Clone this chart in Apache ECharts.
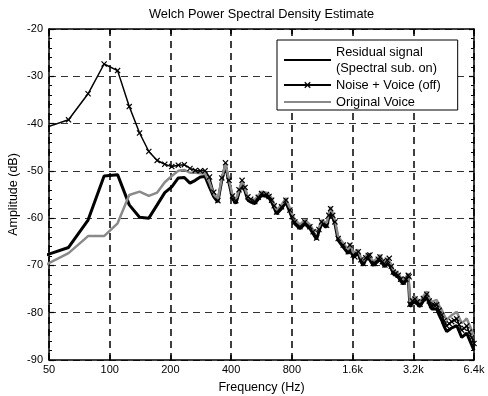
<!DOCTYPE html>
<html>
<head>
<meta charset="utf-8">
<script src="https://cdn.jsdelivr.net/npm/echarts@6/dist/echarts.min.js"></script>
<style>
html, body { margin: 0; padding: 0; background: #fff; }
#main { width: 488px; height: 396px; }
</style>
</head>
<body>
<div id="main"></div>
<script>
// 频率点 (Hz)
const freq = [
    46.9, 62.5, 78.1, 93.8, 109.4, 125, 140.6, 156.3, 171.9, 187.5,
    203.1, 218.8, 234.4, 250, 265.6, 281.3, 296.9, 312.5, 328.1, 343.8,
    359.4, 375, 390.6, 406.3, 421.9, 437.5, 453.1, 468.8, 484.4, 500,
    524, 545, 566, 599, 617, 635, 654, 672, 711, 747,
    782, 805, 828, 877, 928, 983, 1020, 1061, 1090, 1123,
    1189, 1220, 1245, 1275, 1308, 1358, 1438, 1523, 1552, 1612,
    1643, 1707, 1760, 1807, 1860, 1914, 1951, 2026, 2065, 2145,
    2187, 2250, 2315, 2380, 2432, 2490, 2546, 2620, 2695, 2770,
    2854, 2940, 3022, 3050, 3080, 3170, 3263, 3354, 3454, 3590,
    3730, 3840, 3948, 4060, 4180, 4300, 4426, 4550, 4685, 4820,
    4962, 5100, 5253, 5400, 5561, 5720, 5888, 6060, 6234, 6400
];

// Residual signal (Spectral sub. on)
const residual = [
    -68.0, -66.2, -60.4, -51.1, -50.8, -57.2, -59.8, -60.0, -57.2, -54.6,
    -53.4, -51.5, -51.4, -52.6, -52.0, -51.3, -51.2, -53.5, -55.5, -56.6,
    -52.0, -48.8, -52.6, -55.9, -56.9, -54.6, -52.8, -54.3, -56.2, -56.6,
    -56.9, -56.0, -55.2, -55.4, -55.8, -56.6, -57.8, -59.1, -58.0, -56.6,
    -58.7, -60.1, -61.2, -62.2, -61.2, -62.2, -63.3, -64.5, -62.8, -61.2,
    -61.9, -59.8, -58.4, -59.8, -61.2, -64.7, -66.1, -67.5, -66.1, -68.2,
    -68.6, -67.5, -69.2, -70.0, -68.8, -68.3, -68.2, -70.0, -70.0, -69.1,
    -68.6, -69.6, -70.3, -69.3, -68.9, -70.6, -71.8, -72.1, -72.5, -73.3,
    -73.9, -73.3, -72.5, -72.8, -78.7, -78.0, -77.6, -78.2, -78.7, -77.5,
    -76.7, -78.2, -79.2, -79.2, -79.2, -80.5, -81.6, -82.9, -84.0, -83.6,
    -83.2, -83.0, -82.7, -83.9, -85.2, -84.8, -84.3, -85.6, -86.8, -88.0
];

// Noise + Voice (off)
const noisy = [
    -41.0, -39.2, -33.7, -27.4, -28.8, -36.4, -42.0, -45.9, -47.8, -48.6,
    -49.1, -48.8, -48.7, -49.5, -49.9, -50.0, -50.0, -51.3, -54.5, -56.3,
    -51.5, -48.3, -52.0, -55.3, -56.3, -54.0, -52.0, -53.5, -55.5, -56.0,
    -56.5, -55.6, -54.8, -55.0, -55.4, -56.2, -57.4, -58.7, -57.6, -56.2,
    -58.3, -59.7, -60.8, -61.8, -60.8, -61.8, -62.9, -64.2, -62.4, -60.8,
    -61.5, -59.4, -58.0, -59.4, -60.8, -64.3, -65.7, -67.1, -65.7, -67.8,
    -68.2, -67.1, -68.8, -69.6, -68.4, -67.9, -67.8, -69.6, -69.6, -68.7,
    -68.2, -69.2, -69.9, -68.9, -68.5, -70.2, -71.4, -71.7, -72.1, -72.9,
    -73.5, -72.9, -72.1, -72.4, -78.2, -77.5, -77.1, -77.7, -78.2, -77.0,
    -76.1, -77.5, -78.5, -78.4, -78.3, -79.5, -80.5, -81.7, -82.8, -82.3,
    -81.9, -81.6, -81.3, -82.5, -83.7, -83.3, -82.8, -84.1, -85.3, -86.5
];

// Original Voice
const voice = [
    -70.1, -67.4, -63.8, -63.8, -61.1, -55.1, -54.4, -55.3, -54.6, -52.4,
    -51.1, -50.0, -49.8, -50.4, -50.4, -50.5, -50.6, -52.5, -55.0, -56.0,
    -51.5, -48.5, -52.0, -55.1, -56.2, -54.0, -52.2, -53.7, -55.6, -56.0,
    -56.1, -55.2, -54.4, -54.6, -55.0, -55.8, -57.0, -58.3, -57.2, -55.8,
    -57.9, -59.3, -60.4, -61.4, -60.4, -61.4, -62.5, -62.8, -62.0, -60.4,
    -61.1, -59.0, -57.6, -59.0, -60.4, -63.9, -65.3, -66.7, -65.3, -67.4,
    -67.8, -66.7, -68.4, -69.2, -68.0, -67.5, -67.4, -69.2, -69.2, -68.3,
    -67.8, -68.8, -69.5, -68.5, -68.1, -69.8, -71.0, -71.3, -71.7, -72.5,
    -73.1, -72.5, -71.7, -72.0, -77.7, -77.0, -76.6, -77.2, -77.7, -76.5,
    -75.5, -76.8, -77.7, -77.5, -77.3, -78.5, -79.4, -80.5, -81.5, -81.0,
    -80.5, -80.2, -79.8, -81.0, -82.2, -81.8, -81.2, -82.5, -83.7, -85.0
];

// x 轴刻度标签 (每个倍频程一个)
const xTickLabels = ['50', '100', '200', '400', '800', '1.6k', '3.2k', '6.4k'];

const FONT = "'Liberation Sans', Arial, sans-serif";
const crossPath = 'path://M0,1.4L1.4,0L5,3.6L8.6,0L10,1.4L6.4,5L10,8.6L8.6,10L5,6.4L1.4,10L0,8.6L3.6,5Z';

// 对数频率轴：按倍频程映射到线性值轴
const toPoints = vals => freq.map((f, i) => [Math.log2(f / 50), vals[i]]);

const chart = echarts.init(document.getElementById('main'), null, { renderer: 'canvas' });

const gridDash = { type: [7, 5], color: '#000', width: 1 };

function xAxisCfg(pos, showLabel) {
    return {
        type: 'value', position: pos, min: 0, max: xTickLabels.length - 1, interval: 1,
        axisLine: { show: true, onZero: false, lineStyle: { color: '#000', width: 1.5 } },
        axisTick: { show: true, inside: true, length: 5, lineStyle: { color: '#000', width: 1.5 } },
        axisLabel: {
            show: showLabel, margin: 4, color: '#000', fontSize: 11, fontFamily: FONT,
            formatter: v => xTickLabels[Math.round(v)]
        },
        splitLine: { show: showLabel, lineStyle: { ...gridDash, width: 1.5 } }
    };
}

function yAxisCfg(pos, showLabel) {
    return {
        type: 'value', position: pos, min: -90, max: -20, interval: 10,
        axisLine: { show: true, onZero: false, lineStyle: { color: '#000', width: 1.5 } },
        axisTick: { show: true, inside: true, length: 5, lineStyle: { color: '#000', width: 1.2 } },
        minorTick: { show: true, splitNumber: 5, length: 3, lineStyle: { color: '#000', width: 1 } },
        axisLabel: { show: showLabel, margin: 6, color: '#000', fontSize: 11, fontFamily: FONT },
        splitLine: { show: showLabel, lineStyle: { ...gridDash, color: '#333' } }
    };
}

const xBottom = xAxisCfg('bottom', true);
xBottom.name = 'Frequency (Hz)';
xBottom.nameLocation = 'middle';
xBottom.nameGap = 21;
xBottom.nameTextStyle = { color: '#000', fontSize: 12.5, fontFamily: FONT };

const yLeft = yAxisCfg('left', true);
yLeft.name = 'Amplitude (dB)';
yLeft.nameLocation = 'middle';
yLeft.nameGap = 29;
yLeft.nameMoveOverlap = false;
yLeft.nameTextStyle = { color: '#000', fontSize: 12.5, fontFamily: FONT };

const legendNames = ['Residual signal\n(Spectral sub. on)', 'Noise + Voice (off)', 'Original Voice'];

chart.setOption({
    animation: false,
    backgroundColor: '#fff',
    textStyle: { fontFamily: FONT },
    title: {
        text: 'Welch Power Spectral Density Estimate',
        left: 144, top: 3,
        textStyle: { color: '#000', fontSize: 12.8, fontWeight: 'normal', fontFamily: FONT }
    },
    grid: { left: 49, right: 14, top: 29, bottom: 36, outerBoundsMode: 'none' },
    legend: {
        orient: 'vertical', left: 277, top: 40,
        backgroundColor: '#fff', borderColor: '#000', borderWidth: 1,
        padding: [4, 17, 0, 6],
        itemWidth: 47, itemHeight: 8, itemGap: 1,
        selectedMode: false,
        textStyle: { color: '#000', fontSize: 12.8, lineHeight: 16, fontFamily: FONT },
        data: [
            { name: legendNames[0], itemStyle: { opacity: 0 } },
            { name: legendNames[1] },
            { name: legendNames[2], itemStyle: { opacity: 0 } }
        ]
    },
    xAxis: [xBottom, xAxisCfg('top', false)],
    yAxis: [yLeft, yAxisCfg('right', false)],
    series: [
        {
            name: legendNames[0], type: 'line',
            data: toPoints(residual), symbol: 'circle', showSymbol: false,
            lineStyle: { color: '#000', width: 3 }, itemStyle: { color: '#000' }
        },
        {
            name: legendNames[1], type: 'line',
            data: toPoints(noisy), symbol: crossPath, symbolSize: 6, showSymbol: true,
            lineStyle: { color: '#000', width: 1.5 }, itemStyle: { color: '#000' }
        },
        {
            name: legendNames[2], type: 'line',
            data: toPoints(voice), symbol: 'circle', showSymbol: false,
            lineStyle: { color: '#8a8a8a', width: 2.5 }, itemStyle: { color: '#8a8a8a' }
        }
    ]
});
</script>
</body>
</html>
